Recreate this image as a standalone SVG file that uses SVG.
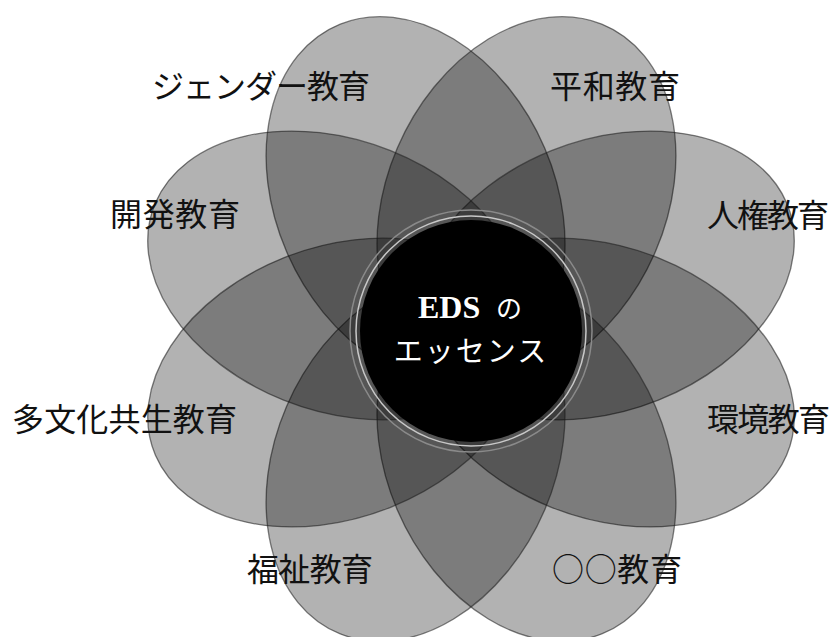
<svg xmlns="http://www.w3.org/2000/svg" width="836" height="637" viewBox="0 0 836 637">
  <defs>
    <style>
      .petal { fill: #000; fill-opacity: 0.3; stroke: #1a1a1a; stroke-opacity: 0.55; stroke-width: 1.3; }
      .label { font-family: "Noto Sans CJK JP", "Noto Sans CJK SC", sans-serif; font-size: 32px; fill: #111; }
      .core-text { fill: #fff; }
    </style>
  </defs>
  <rect width="836" height="637" fill="#fff"/>
  <g id="connectors"/>
  <g id="node-gender">
    <ellipse class="petal" cx="0" cy="0" rx="190" ry="135" transform="translate(471 329) scale(1.035 1) rotate(-112.5) translate(140 0)"/>
  </g>
  <g id="node-heiwa">
    <ellipse class="petal" cx="0" cy="0" rx="190" ry="135" transform="translate(471 329) scale(1.035 1) rotate(-67.5) translate(140 0)"/>
  </g>
  <g id="node-jinken">
    <ellipse class="petal" cx="0" cy="0" rx="190" ry="135" transform="translate(471 329) scale(1.035 1) rotate(-22.5) translate(140 0)"/>
  </g>
  <g id="node-kankyo">
    <ellipse class="petal" cx="0" cy="0" rx="190" ry="135" transform="translate(471 329) scale(1.035 1) rotate(22.5) translate(140 0)"/>
  </g>
  <g id="node-maru">
    <ellipse class="petal" cx="0" cy="0" rx="190" ry="135" transform="translate(471 329) scale(1.035 1) rotate(67.5) translate(140 0)"/>
  </g>
  <g id="node-fukushi">
    <ellipse class="petal" cx="0" cy="0" rx="190" ry="135" transform="translate(471 329) scale(1.035 1) rotate(112.5) translate(140 0)"/>
  </g>
  <g id="node-tabunka">
    <ellipse class="petal" cx="0" cy="0" rx="190" ry="135" transform="translate(471 329) scale(1.035 1) rotate(157.5) translate(140 0)"/>
  </g>
  <g id="node-kaihatsu">
    <ellipse class="petal" cx="0" cy="0" rx="190" ry="135" transform="translate(471 329) scale(1.035 1) rotate(-157.5) translate(140 0)"/>
  </g>
  <g id="labels">
    <text class="label" x="152" y="98" textLength="218" lengthAdjust="spacing">ジェンダー教育</text>
    <text class="label" x="550" y="98" textLength="130" lengthAdjust="spacing">平和教育</text>
    <text class="label" x="110" y="226" textLength="130" lengthAdjust="spacing">開発教育</text>
    <text class="label" x="707" y="227" textLength="122" lengthAdjust="spacing">人権教育</text>
    <text class="label" x="12" y="431" textLength="225" lengthAdjust="spacing">多文化共生教育</text>
    <text class="label" x="707" y="431" textLength="123" lengthAdjust="spacing">環境教育</text>
    <text class="label" x="247" y="581" textLength="126" lengthAdjust="spacing">福祉教育</text>
    <text class="label" x="552" y="581" textLength="130" lengthAdjust="spacing">○○教育</text>
  </g>
  <g id="node-core">
    <circle cx="471" cy="331" r="121" fill="none" stroke="#8a8a8a" stroke-width="1.5"/>
    <circle cx="471" cy="331" r="115" fill="none" stroke="#c8c8c8" stroke-width="1.5"/>
    <circle cx="471" cy="331" r="111" fill="#000"/>
    <text class="core-text" x="418" y="318" font-family="'Liberation Serif', serif" font-weight="bold" font-size="32">EDS</text>
    <text class="core-text" x="496" y="318" font-family="'Noto Sans CJK JP', sans-serif" font-size="26">の</text>
    <text class="core-text" x="471" y="362" text-anchor="middle" font-family="'Noto Sans CJK JP', sans-serif" font-size="29" letter-spacing="2">エッセンス</text>
  </g>
</svg>
